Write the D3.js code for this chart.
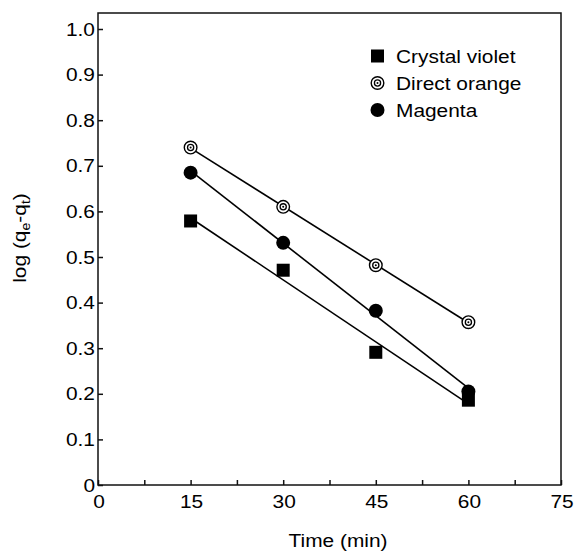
<!DOCTYPE html>
<html>
<head>
<meta charset="utf-8">
<script src="https://cdn.jsdelivr.net/npm/d3@7"></script>
<style>
  body { margin: 0; background: #fff; }
  svg { display: block; }
  text { font-family: "Liberation Sans", Arial, sans-serif; fill: #000; }
</style>
</head>
<body>
<div class="chart"></div>
<script>
// data
const times = [15, 30, 45, 60];
const crystalViolet = [0.579, 0.471, 0.291, 0.186];
const directOrange = [0.740, 0.610, 0.482, 0.357];
const magenta = [0.685, 0.531, 0.382, 0.205];
const xTicks = [0, 15, 30, 45, 60, 75];
const xMinorTicks = [7.5, 22.5, 37.5, 52.5, 67.5];
const yTicks = [0, 0.1, 0.2, 0.3, 0.4, 0.5, 0.6, 0.7, 0.8, 0.9, 1.0];
const seriesNames = ["Crystal violet", "Direct orange", "Magenta"];

const svgWidth = 575, svgHeight = 551;
const plotLeft = 98, plotRight = 561, plotTop = 13, plotBottom = 485;
const fontSize = "18.5px", stretch = 1.13;

var svg = d3.select(".chart").append("svg")
    .attr("width", svgWidth).attr("height", svgHeight);

var xScale = d3.scaleLinear().domain([0, 75]).range([plotLeft, plotRight]);
var yScale = d3.scaleLinear().domain([0, 1]).range([plotBottom, 29]);

// text in the figure is a bit wider than plain Arial
function addText(g, x, y, str, anchor) {
    return g.append("text")
        .attr("transform", "translate(" + x + "," + y + ") scale(" + stretch + ",1)")
        .attr("text-anchor", anchor || "start")
        .style("font-size", fontSize)
        .text(str);
}

// frame
svg.append("rect")
    .attr("x", plotLeft).attr("y", plotTop)
    .attr("width", plotRight - plotLeft).attr("height", plotBottom - plotTop)
    .attr("fill", "none").attr("stroke", "#111").attr("stroke-width", 1.5);

// x axis, ticks pointing inward
var xAxis = d3.axisTop(xScale).tickValues(xTicks.concat(xMinorTicks)).tickSize(5).tickFormat("");
svg.append("g").attr("transform", "translate(0," + plotBottom + ")").call(xAxis)
    .call(g => g.select(".domain").remove())
    .call(g => g.selectAll("line").attr("stroke", "#111").attr("stroke-width", 1.5));

var xLabels = svg.append("g");
xTicks.forEach(d => addText(xLabels, xScale(d) + 1, 508, d, "middle"));

// y axis
var yAxis = d3.axisRight(yScale).tickValues(yTicks).tickSize(5).tickFormat("");
svg.append("g").attr("transform", "translate(" + plotLeft + ",0)").call(yAxis)
    .call(g => g.select(".domain").remove())
    .call(g => g.selectAll("line").attr("stroke", "#111").attr("stroke-width", 1.5));

var yLabels = svg.append("g");
yTicks.forEach(d => addText(yLabels, 95, yScale(d) + 6.5, d === 0 ? "0" : d3.format(".1f")(d), "end"));

// axis titles
addText(svg, 338, 547, "Time (min)", "middle");

var yTitle = svg.append("text")
    .attr("transform", "translate(26,238) rotate(-90) scale(" + stretch + ",1)")
    .attr("text-anchor", "middle")
    .style("font-size", fontSize);
yTitle.append("tspan").text("log (q");
yTitle.append("tspan").attr("dy", 4).style("font-size", "12.5px").text("e");
yTitle.append("tspan").attr("dy", -4).text("-q");
yTitle.append("tspan").attr("dy", 4).style("font-size", "12.5px").text("t");
yTitle.append("tspan").attr("dy", -4).text(")");

// least squares fit lines
function fit(ys) {
    var mx = d3.mean(times), my = d3.mean(ys);
    var sxy = d3.sum(times, (t, i) => (t - mx) * (ys[i] - my));
    var sxx = d3.sum(times, t => (t - mx) * (t - mx));
    var b = sxy / sxx;
    return [times[0], times[times.length - 1]].map(t => [t, my + b * (t - mx)]);
}

var line = d3.line().x(d => xScale(d[0])).y(d => yScale(d[1]));
[directOrange, magenta, crystalViolet].forEach(function (ys) {
    svg.append("path")
        .attr("d", line(fit(ys)))
        .attr("fill", "none").attr("stroke", "#000").attr("stroke-width", 1.6);
});

// markers
function drawSquare(g, x, y) {
    g.append("rect").attr("x", x - 6.5).attr("y", y - 6.5)
        .attr("width", 13).attr("height", 13).attr("fill", "#000");
}
function drawDot(g, x, y) {
    g.append("circle").attr("cx", x).attr("cy", y).attr("r", 7).attr("fill", "#000");
}
function drawRing(g, x, y) {
    g.append("circle").attr("cx", x).attr("cy", y).attr("r", 6.3)
        .attr("fill", "#fff").attr("stroke", "#000").attr("stroke-width", 1.4);
    g.append("circle").attr("cx", x).attr("cy", y).attr("r", 3.1)
        .attr("fill", "none").attr("stroke", "#000").attr("stroke-width", 1.3);
    g.append("circle").attr("cx", x).attr("cy", y).attr("r", 1).attr("fill", "#000");
}

var marks = svg.append("g");
times.forEach(function (t, i) {
    drawRing(marks, xScale(t), yScale(directOrange[i]));
    drawDot(marks, xScale(t), yScale(magenta[i]));
    drawSquare(marks, xScale(t), yScale(crystalViolet[i]));
});

// legend
var legend = svg.append("g");
var drawers = [drawSquare, drawRing, drawDot];
seriesNames.forEach(function (name, i) {
    var y = 56 + i * 27;
    drawers[i](legend, 377.5, y);
    addText(legend, 396, y + 6.5, name);
});
</script>
</body>
</html>
